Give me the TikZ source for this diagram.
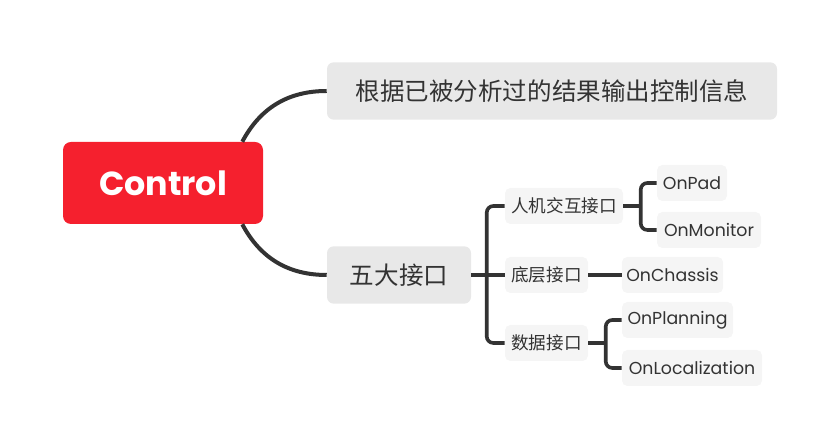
\documentclass[tikz,border=0pt]{standalone}
\usepackage{fontspec}
\setmainfont{Poppins}
\newfontfamily\cjk{Noto Sans CJK SC}
\usepackage{xcolor}
\usepackage{tikz}
\usetikzlibrary{positioning,arrows.meta}

\definecolor{rootred}{HTML}{F5202E}
\definecolor{inkgray}{HTML}{333333}
\definecolor{boxgray}{HTML}{E8E8E8}
\definecolor{leafgray}{HTML}{F5F5F5}

\begin{document}
\begin{tikzpicture}[
  x=0.75pt, y=-0.75pt,
  root/.style={fill=rootred, rounded corners=6pt, minimum width=150pt, minimum height=61.5pt,
               text=white, font=\fontsize{25}{30}\selectfont\bfseries},
  mid/.style={fill=boxgray, rounded corners=5pt, minimum height=43pt,
              text=inkgray, font=\cjk\fontsize{18.4}{22}\selectfont},
  sub/.style={fill=leafgray, rounded corners=4pt, minimum height=27pt,
              text=inkgray, font=\cjk\fontsize{13.2}{15}\selectfont},
  leaf/.style={fill=leafgray, rounded corners=4pt, minimum height=27pt,
               text=inkgray, font=\fontsize{13}{15}\selectfont},
  link/.style={draw=inkgray, line width=3pt},
  twig/.style={draw=inkgray, line width=2.7pt, rounded corners=5pt},
]
\useasboundingbox (0,0) rectangle (840,448);

% main topic and its two branches
\node[root] (ctl) at (163,183) {Control};
\node[mid, minimum width=337.5pt] (info) at (552,91) {根据已被分析过的结果输出控制信息};
\node[mid, minimum width=108pt] (five) at (399,275) {五大接口};

% interfaces
\node[sub, minimum width=88.5pt] (hmi) at (564,206) {人机交互接口};
\node[sub, minimum width=62.25pt] (low) at (546.5,275) {底层接口};
\node[sub, minimum width=62.25pt] (data) at (546.5,343) {数据接口};

% callbacks
\node[leaf, minimum width=52.5pt] (pad) at (692,183) {OnPad};
\node[leaf, minimum width=78pt] (mon) at (709,230) {OnMonitor};
\node[leaf, minimum width=75.75pt] (chas) at (672.5,275) {OnChassis};
\node[leaf, minimum width=83.25pt] (plan) at (677.5,320) {OnPlanning};
\node[leaf, minimum width=105pt] (loc) at (692,368) {OnLocalization};

\draw[link] ([xshift=-15.75pt]ctl.north east) to[out=62, in=180] (info.west);
\draw[link] ([xshift=-15.75pt]ctl.south east) to[out=-62, in=180] (five.west);

\draw[twig] (five.east) -- (low.west);
\draw[twig] (hmi.west) -- ++(-18,0) |- (data.west);

\draw[twig] (hmi.east) -- ++(18,0);
\draw[twig] (pad.west) -- ++(-16,0) |- (mon.west);
\draw[twig] (low.east) -- (chas.west);
\draw[twig] (data.east) -- ++(18,0);
\draw[twig] (plan.west) -- ++(-16,0) |- (loc.west);
\end{tikzpicture}
\end{document}
